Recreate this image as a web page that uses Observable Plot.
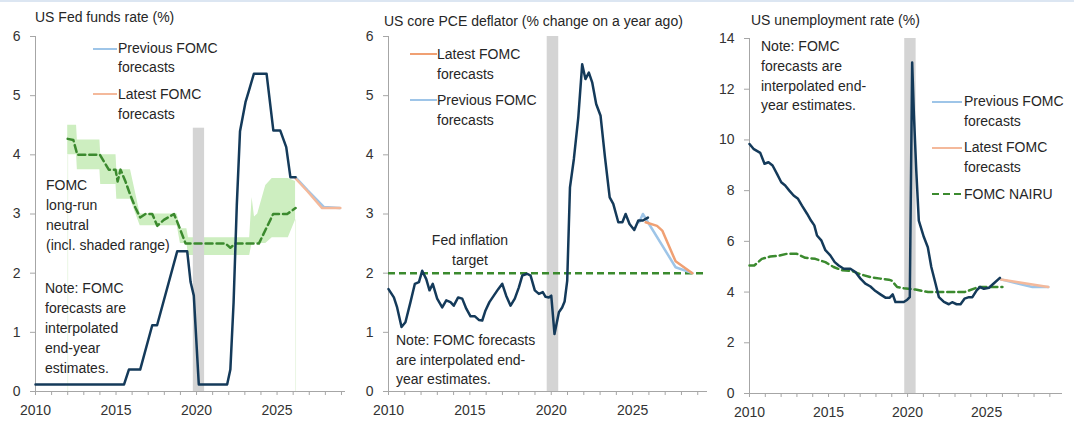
<!DOCTYPE html>
<html><head><meta charset="utf-8">
<script src="https://cdn.jsdelivr.net/npm/d3@7"></script>
<script src="https://cdn.jsdelivr.net/npm/@observablehq/plot@0.6"></script>
<style>
body{margin:0;background:#fff;font-family:"Liberation Sans",Arial,sans-serif;}
#wrap{position:relative;width:1074px;height:425px;overflow:hidden;background:#fff}
.panel{position:absolute;top:0}
.t{position:absolute;font-size:14px;color:#262626;line-height:20px;white-space:nowrap}
.sw{position:absolute;height:0;border-top-width:2.5px;border-top-style:solid}
</style></head><body><div id="wrap"></div>
<script>
// ---------- Panel 1: Fed funds rate ----------
const ffDates = [2010.0,2015.5,2015.8,2016.5,2017.25,2017.55,2018.8,2019.42,2019.63,2019.83,2020.14,2021.9,2022.1,2022.3,2022.5,2022.7,2023.04,2023.25,2023.56,2024.35,2024.77,2025.2,2025.57,2025.83,2026.15];
const ffRate  = [0.12,0.12,0.37,0.37,1.12,1.12,2.37,2.37,1.85,1.62,0.12,0.12,0.37,1.5,3.15,4.4,4.89,5.08,5.37,5.37,4.41,4.41,4.13,3.62,3.62];
const ffPrevDates = [2026.15,2026.9,2027.9,2028.9];
const ffPrev      = [3.62,3.4,3.12,3.1];
const ffLatestDates = [2026.15,2026.9,2027.8,2028.93];
const ffLatest      = [3.6,3.38,3.1,3.1];
const neutralDates = [2012.0,2012.35,2012.6,2014.0,2014.55,2014.97,2015.1,2015.28,2015.6,2015.9,2016.2,2016.5,2016.83,2017.25,2017.56,2017.97,2018.6,2018.9,2019.32,2021.8,2022.1,2022.42,2023.87,2024.76,2025.63,2026.15];
const neutralRate  = [4.27,4.25,4.0,4.0,3.75,3.75,3.55,3.75,3.54,3.31,3.11,2.94,3.0,3.0,2.8,2.9,3.0,2.8,2.5,2.5,2.43,2.5,2.5,3.0,3.0,3.1];
const rangeDates = [2012.0,2012.55,2012.6,2014.0,2014.05,2015.0,2015.05,2015.9,2016.5,2018.8,2019.0,2019.4,2019.5,2023.3,2023.45,2023.6,2023.8,2024.3,2024.7,2025.7,2026.15];
const rangeLow   = [4.0,4.0,3.75,3.75,3.5,3.5,3.25,3.25,2.8,2.8,2.5,2.5,2.3,2.3,2.5,2.5,2.5,2.5,2.6,2.6,2.9];
const rangeHigh  = [4.5,4.5,4.25,4.25,4.0,4.0,3.75,3.75,3.0,3.0,2.75,2.75,2.6,2.6,3.28,2.95,3.0,3.48,3.6,3.6,3.55];

// ---------- Panel 2: core PCE ----------
const pceDates = [2010.0,2010.33,2010.53,2010.8,2011.04,2011.35,2011.62,2011.87,2012.07,2012.32,2012.52,2012.72,2012.99,2013.3,2013.55,2013.81,2014.01,2014.28,2014.53,2014.78,2015.04,2015.31,2015.55,2015.76,2015.96,2016.2,2016.47,2016.74,2016.99,2017.23,2017.5,2017.76,2018.01,2018.22,2018.52,2018.73,2018.99,2019.24,2019.48,2019.65,2019.85,2020.0,2020.2,2020.47,2020.67,2020.82,2020.98,2021.15,2021.39,2021.66,2021.9,2022.1,2022.31,2022.52,2022.76,2023.03,2023.3,2023.59,2023.81,2024.12,2024.37,2024.57,2024.81,2025.1,2025.35,2025.63,2025.94];
const pceValue = [1.73,1.59,1.42,1.09,1.17,1.51,1.82,1.85,2.04,1.9,1.71,1.82,1.57,1.42,1.54,1.51,1.45,1.59,1.57,1.4,1.27,1.27,1.21,1.2,1.37,1.51,1.62,1.73,1.82,1.62,1.45,1.57,1.76,1.96,1.99,1.96,1.71,1.65,1.68,1.6,1.59,1.62,0.97,1.34,1.42,1.52,1.87,3.45,3.93,4.63,5.53,5.28,5.39,5.22,4.86,4.66,3.96,3.28,3.17,2.86,2.86,3.0,2.83,2.73,2.89,2.89,2.94];
const pcePrevDates = [2025.4,2025.63,2027.64,2028.67];
const pcePrev      = [2.86,3.0,2.1,2.0];
const pceLatestDates = [2025.8,2026.5,2026.82,2027.64,2028.67];
const pceLatest      = [2.86,2.8,2.72,2.2,2.0];
const inflationTarget = 2;

// ---------- Panel 3: unemployment ----------
const urDates = [2010.0,2010.25,2010.68,2010.95,2011.2,2011.46,2011.74,2012.01,2012.26,2012.52,2012.79,2013.07,2013.32,2013.64,2013.89,2014.1,2014.27,2014.54,2014.8,2015.11,2015.39,2015.64,2015.96,2016.38,2016.7,2017.02,2017.33,2017.65,2017.97,2018.28,2018.6,2018.87,2019.06,2019.23,2019.76,2019.98,2020.14,2020.29,2020.4,2020.55,2020.71,2021.03,2021.28,2021.5,2021.77,2021.98,2022.3,2022.61,2022.82,2023.1,2023.35,2023.6,2023.88,2024.1,2024.37,2024.58,2024.83,2025.15,2025.43,2025.84];
const urValue = [9.84,9.65,9.49,9.06,9.12,8.99,8.66,8.33,8.2,8.0,7.81,7.68,7.41,7.09,6.82,6.63,6.23,6.04,5.65,5.45,5.18,5.05,4.92,4.92,4.79,4.53,4.33,4.22,4.04,3.91,3.78,3.78,3.91,3.61,3.61,3.7,3.8,13.05,11.0,8.79,6.82,6.17,5.77,4.99,4.33,3.8,3.61,3.52,3.6,3.52,3.52,3.74,3.8,3.8,4.07,4.2,4.13,4.17,4.33,4.56];
const nairuDates = [2010.0,2010.3,2010.78,2011.31,2011.84,2012.37,2013.0,2013.53,2014.16,2014.8,2015.32,2015.85,2016.49,2017.02,2017.65,2018.28,2018.81,2019.0,2019.34,2019.76,2020.5,2021.3,2023.6,2024.5,2026.0];
const nairuValue = [5.05,5.05,5.31,5.4,5.43,5.51,5.51,5.35,5.31,5.18,4.99,4.86,4.83,4.7,4.59,4.53,4.49,4.45,4.2,4.15,4.1,4.0,4.0,4.2,4.2];
const urPrevDates = [2025.9,2026.9,2027.9,2028.9];
const urPrev      = [4.5,4.35,4.2,4.2];
const urLatestDates = [2025.9,2026.9,2027.9,2028.9];
const urLatest      = [4.5,4.4,4.3,4.2];

// ---------- common ----------
const recession = {start: 2019.8, end: 2020.5};
const labelYears = [2010, 2015, 2020, 2025];
const titles = ["US Fed funds rate (%)", "US core PCE deflator (% change on a year ago)", "US unemployment rate (%)"];
const legendPrev = ["Previous FOMC", "forecasts"];
const legendLatest = ["Latest FOMC", "forecasts"];
const nairuLabel = "FOMC NAIRU";
const neutralLabel = ["FOMC", "long-run", "neutral", "(incl. shaded range)"];
const note1 = ["Note: FOMC", "forecasts are", "interpolated", "end-year", "estimates."];
const note2 = ["Note: FOMC forecasts", "are interpolated end-", "year estimates."];
const note3 = ["Note: FOMC", "forecasts are", "interpolated end-", "year estimates."];
const targetLabel = ["Fed inflation", "target"];

const NAVY = "#143a5a", GREEN = "#3b8a2e", BAND = "#cdeec0", GREY = "#d4d4d4", AXIS = "#a6a6a6";
const LBLUE = "#9ec5e8", ORANGE1 = "#f4b99b", ORANGE2 = "#f0a073";
const FONT = "'Liberation Sans', Arial, sans-serif";

const zip = (xs, ys) => xs.map((x, i) => ({x, y: ys[i]}));

function axes(yTicks) {
  return [
    Plot.axisY(yTicks, {tickSize: 5, tickPadding: 10, stroke: AXIS, fill: "#333", fontSize: 14, tickFormat: d => String(d), label: null}),
    Plot.axisX(d3.range(2010, 2030), {tickSize: 4, tickFormat: () => "", stroke: AXIS, label: null}),
    Plot.axisX(labelYears, {tickSize: 0, tickPadding: 14, tickFormat: d => String(d), fill: "#333", fontSize: 14, label: null}),
    Plot.ruleX([2010], {stroke: AXIS, strokeWidth: 1}),
    Plot.ruleY([0], {stroke: AXIS, strokeWidth: 1})
  ];
}

const wrap = document.getElementById("wrap");
function place(svg, left) {
  svg.classList.add("panel");
  svg.style.left = left + "px";
  wrap.appendChild(svg);
}
function text(lines, left, top, lh, extra) {
  const d = document.createElement("div");
  d.className = "t";
  d.style.left = left + "px";
  d.style.top = top + "px";
  d.style.lineHeight = lh + "px";
  if (extra) Object.assign(d.style, extra);
  d.innerHTML = lines.join("<br>");
  wrap.appendChild(d);
}
function swatch(left, top, w, color, dashed) {
  const d = document.createElement("div");
  d.className = "sw";
  d.style.left = left + "px";
  d.style.top = (top - 1.25) + "px";
  d.style.width = w + "px";
  d.style.borderTopColor = color;
  if (dashed) { d.style.borderTopStyle = "none"; d.style.height = "2.5px";
    d.style.background = `repeating-linear-gradient(90deg, ${color} 0 7px, transparent 7px 11px)`; }
  wrap.appendChild(d);
}

// Panel 1
const band = rangeDates.map((x, i) => ({x, lo: rangeLow[i], hi: rangeHigh[i]}));
const p1 = Plot.plot({
  width: 355, height: 425, marginLeft: 35, marginRight: 10, marginTop: 36, marginBottom: 34,
  style: {fontFamily: FONT, fontSize: "14px", background: "transparent"},
  x: {domain: [2010, 2029.25], label: null}, y: {domain: [0, 6], label: null},
  marks: [
    Plot.areaY(band, {x: "x", y1: "lo", y2: "hi", fill: BAND}),
    Plot.ruleX([rangeDates[0], rangeDates[rangeDates.length - 1]], {y1: 0, y2: (d, i) => i ? rangeLow[rangeLow.length - 1] : rangeLow[0], stroke: "#eaf6e4", strokeWidth: 1}),
    Plot.rect([recession], {x1: "start", x2: "end", y1: 0, y2: 4.45, fill: GREY}),
    ...axes([0, 1, 2, 3, 4, 5, 6]),
    Plot.line(zip(ffPrevDates, ffPrev), {x: "x", y: "y", stroke: LBLUE, strokeWidth: 2.5}),
    Plot.line(zip(ffLatestDates, ffLatest), {x: "x", y: "y", stroke: ORANGE1, strokeWidth: 2.5}),
    Plot.line(zip(neutralDates, neutralRate), {x: "x", y: "y", stroke: GREEN, strokeWidth: 2.5, strokeDasharray: "7,4"}),
    Plot.line(zip(ffDates, ffRate), {x: "x", y: "y", stroke: NAVY, strokeWidth: 2.5, strokeLinejoin: "round"})
  ]
});
place(p1, 0);

// Panel 2
const p2 = Plot.plot({
  width: 362, height: 425, marginLeft: 33, marginRight: 10, marginTop: 36, marginBottom: 34,
  style: {fontFamily: FONT, fontSize: "14px", background: "transparent"},
  x: {domain: [2010, 2029.6], label: null}, y: {domain: [0, 6], label: null},
  marks: [
    Plot.rect([{start: 2019.75, end: 2020.46}], {x1: "start", x2: "end", y1: 0, y2: 6, fill: GREY}),
    ...axes([0, 1, 2, 3, 4, 5, 6]),
    Plot.ruleY([inflationTarget], {stroke: GREEN, strokeWidth: 2.5, strokeDasharray: "7,4"}),
    Plot.line(zip(pcePrevDates, pcePrev), {x: "x", y: "y", stroke: LBLUE, strokeWidth: 2.5}),
    Plot.line(zip(pceLatestDates, pceLatest), {x: "x", y: "y", stroke: ORANGE2, strokeWidth: 2.5}),
    Plot.line(zip(pceDates, pceValue), {x: "x", y: "y", stroke: NAVY, strokeWidth: 2.5, strokeLinejoin: "round"})
  ]
});
place(p2, 355);

// Panel 3
const p3 = Plot.plot({
  width: 357, height: 425, marginLeft: 32, marginRight: 12, marginTop: 38, marginBottom: 32,
  style: {fontFamily: FONT, fontSize: "14px", background: "transparent"},
  x: {domain: [2010, 2029.8], label: null}, y: {domain: [0, 14], label: null},
  marks: [
    Plot.rect([{start: 2019.82, end: 2020.54}], {x1: "start", x2: "end", y1: 0, y2: 14, fill: GREY}),
    ...axes([0, 2, 4, 6, 8, 10, 12, 14]),
    Plot.line(zip(urPrevDates, urPrev), {x: "x", y: "y", stroke: LBLUE, strokeWidth: 2.5}),
    Plot.line(zip(urLatestDates, urLatest), {x: "x", y: "y", stroke: ORANGE1, strokeWidth: 2.5}),
    Plot.line(zip(nairuDates, nairuValue), {x: "x", y: "y", stroke: GREEN, strokeWidth: 2.5, strokeDasharray: "7,4"}),
    Plot.line(zip(urDates, urValue), {x: "x", y: "y", stroke: NAVY, strokeWidth: 2.5, strokeLinejoin: "round"})
  ]
});
place(p3, 717);

// top border line
const tb = document.createElement("div");
Object.assign(tb.style, {position: "absolute", left: "0", top: "0", width: "1074px", height: "2px", background: "#dce6f2"});
wrap.appendChild(tb);

// Titles
text([titles[0]], 35, 7, 20);
text([titles[1]], 384, 11, 20);
text([titles[2]], 751, 10, 20);

// Panel 1 annotations
swatch(93, 49, 24, LBLUE);
text(legendPrev, 118, 39, 19);
swatch(93, 94, 24, ORANGE1);
text(legendLatest, 118, 84, 20);
text(neutralLabel, 46, 175, 20);
text(note1, 45, 278, 20);

// Panel 2 annotations
swatch(410, 54, 27, ORANGE2);
text(legendLatest, 437, 44, 20);
swatch(410, 100, 27, LBLUE);
text(legendPrev, 437, 90, 20);
text(targetLabel, 420, 230, 20, {width: "100px", textAlign: "center"});
text(note2, 396, 331, 19.5);

// Panel 3 annotations
text(note3, 761, 37, 19.8);
swatch(932, 102, 30, LBLUE);
text(legendPrev, 964, 92, 19.5);
swatch(932, 148, 30, ORANGE1);
text(legendLatest, 964, 138, 19.5);
swatch(932, 194, 30, GREEN, true);
text([nairuLabel], 964, 184, 20);
</script></body></html>
